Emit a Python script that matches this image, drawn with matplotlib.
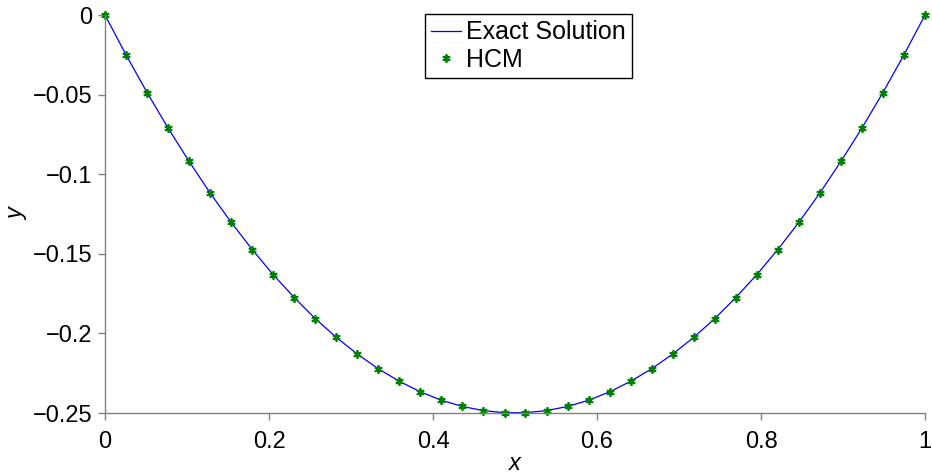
import matplotlib.pyplot as plt

# x sample points and solution values
x_vals = [0.0, 0.0256, 0.0513, 0.0769, 0.1026, 0.1282, 0.1538, 0.1795, 0.2051, 0.2308,
          0.2564, 0.2821, 0.3077, 0.3333, 0.3590, 0.3846, 0.4103, 0.4359, 0.4615, 0.4872,
          0.5128, 0.5385, 0.5641, 0.5897, 0.6154, 0.6410, 0.6667, 0.6923, 0.7179, 0.7436,
          0.7692, 0.7949, 0.8205, 0.8462, 0.8718, 0.8974, 0.9231, 0.9487, 0.9744, 1.0]
y_half = [0.0, -0.0250, -0.0487, -0.0710, -0.0920, -0.1118, -0.1302, -0.1473, -0.1631, -0.1775,
          -0.1907, -0.2025, -0.2130, -0.2222, -0.2301, -0.2367, -0.2420, -0.2459, -0.2485, -0.2498]
y_exact = y_half + y_half[::-1]
y_hcm = list(y_exact)

x_ticks = [0, 0.2, 0.4, 0.6, 0.8, 1]
x_tick_labels = ['0', '0.2', '0.4', '0.6', '0.8', '1']
y_ticks = [0, -0.05, -0.1, -0.15, -0.2, -0.25]
y_tick_labels = ['0', '\u22120.05', '\u22120.1', '\u22120.15', '\u22120.2', '\u22120.25']

plt.rcParams['font.family'] = ['Liberation Sans', 'DejaVu Sans']

fig = plt.figure(figsize=(9.32, 4.76), dpi=100)
ax = fig.add_axes([105 / 932, 63 / 476, 820 / 932, 398 / 476])

ax.plot(x_vals, y_exact, color='#0000ff', linewidth=0.9, label='Exact Solution')
ax.plot(x_vals, y_hcm, linestyle='none', marker=(6, 2, 0), markersize=6,
        color='#008000', markeredgewidth=1.3, label='HCM', clip_on=False)

ax.set_xlim(0, 1)
ax.set_ylim(-0.25, 0)
ax.set_xticks(x_ticks)
ax.set_xticklabels(x_tick_labels)
ax.set_yticks(y_ticks)
ax.set_yticklabels(y_tick_labels)

for side in ['top', 'right']:
    ax.spines[side].set_visible(False)
for side in ['left', 'bottom']:
    ax.spines[side].set_color('#808080')
    ax.spines[side].set_linewidth(1.0)
ax.tick_params(direction='out', length=5, width=1, colors='#808080',
               labelcolor='black', labelsize=17)
ax.tick_params(axis='x', pad=8)
ax.tick_params(axis='y', pad=4)

ax.set_xlabel('x', fontstyle='italic', fontsize=17, labelpad=-1)
ax.set_ylabel('y', fontstyle='italic', fontsize=17, labelpad=3)

leg = ax.legend(loc='upper left', bbox_to_anchor=(425 / 932, 1 - 14 / 476),
                bbox_transform=fig.transFigure, fontsize=18, frameon=True,
                fancybox=False, edgecolor='black', framealpha=1,
                borderpad=0.25, labelspacing=0.15, handlelength=1.2,
                handletextpad=0.2, borderaxespad=0)
leg.get_frame().set_linewidth(1.0)

fig.savefig('out.png', dpi=100)
